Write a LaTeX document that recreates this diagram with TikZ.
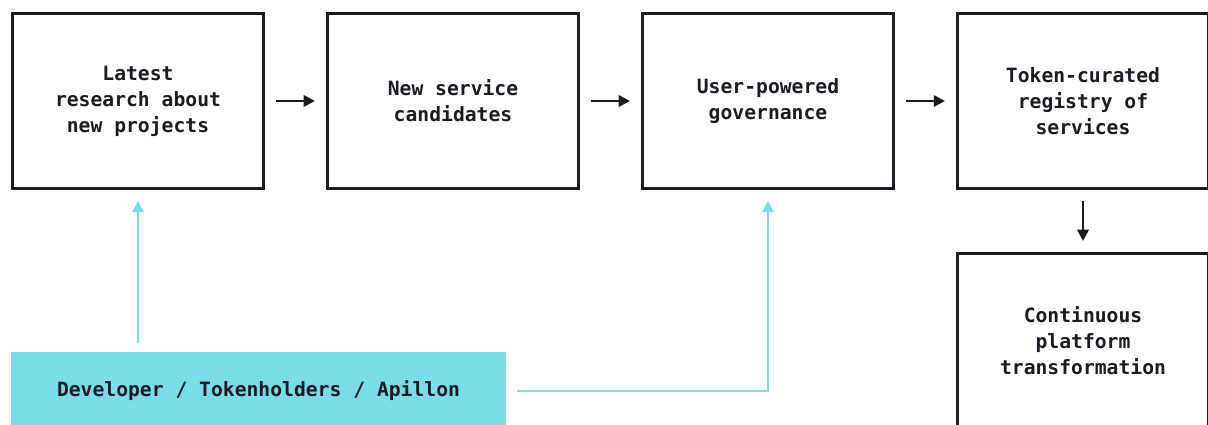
\documentclass[tikz,border=0pt]{standalone}
\usepackage{fontspec}
\setmonofont{DejaVu Sans Mono}
\usetikzlibrary{arrows.meta}
\definecolor{ink}{HTML}{1B1B24}
\definecolor{aqua}{HTML}{79DCE6}

\begin{document}
\begin{tikzpicture}[x=0.025cm, y=-0.025cm,
  box/.style={draw=ink, line width=2.1pt, minimum width=6.275cm, minimum height=4.375cm,
    inner sep=0pt, align=center, text=ink, font=\ttfamily\bfseries\fontsize{14}{18.5}\selectfont},
  source/.style={fill=aqua, minimum width=12.375cm, minimum height=1.95cm,
    inner sep=0pt, text=ink, font=\ttfamily\bfseries\fontsize{14}{18.5}\selectfont},
  flow/.style={draw=ink, line width=1.8pt, -{Triangle[length=8pt, width=8pt]},
    shorten <=0.275cm, shorten >=0.275cm},
  feed/.style={draw=aqua, line width=2.1pt, -{Triangle[length=8pt, width=8pt]},
    shorten <=0.225cm, shorten >=0.275cm}]
\useasboundingbox (0,0) rectangle (1208,425);
\clip (0,0) rectangle (1208,425);

\node[box] (R) at (138, 101) {Latest\\research about\\new projects};
\node[box] (N) at (453, 101) {New service\\candidates};
\node[box] (U) at (768, 101) {User-powered\\governance};
\node[box] (T) at (1083, 101) {Token-curated\\registry of\\services};
\node[box] (C) at (1083, 341) {Continuous\\platform\\transformation};
\node[source] (D) at (258.5, 391) {Developer / Tokenholders / Apillon};

\draw[flow] (R) -- (N);
\draw[flow] (N) -- (U);
\draw[flow] (U) -- (T);
\draw[flow] (T) -- (C);

\draw[feed] (R.south |- D.north) -- (R.south);
\draw[feed, shorten <=0.275cm] (D.east) -| (U.south);
\end{tikzpicture}
\end{document}
